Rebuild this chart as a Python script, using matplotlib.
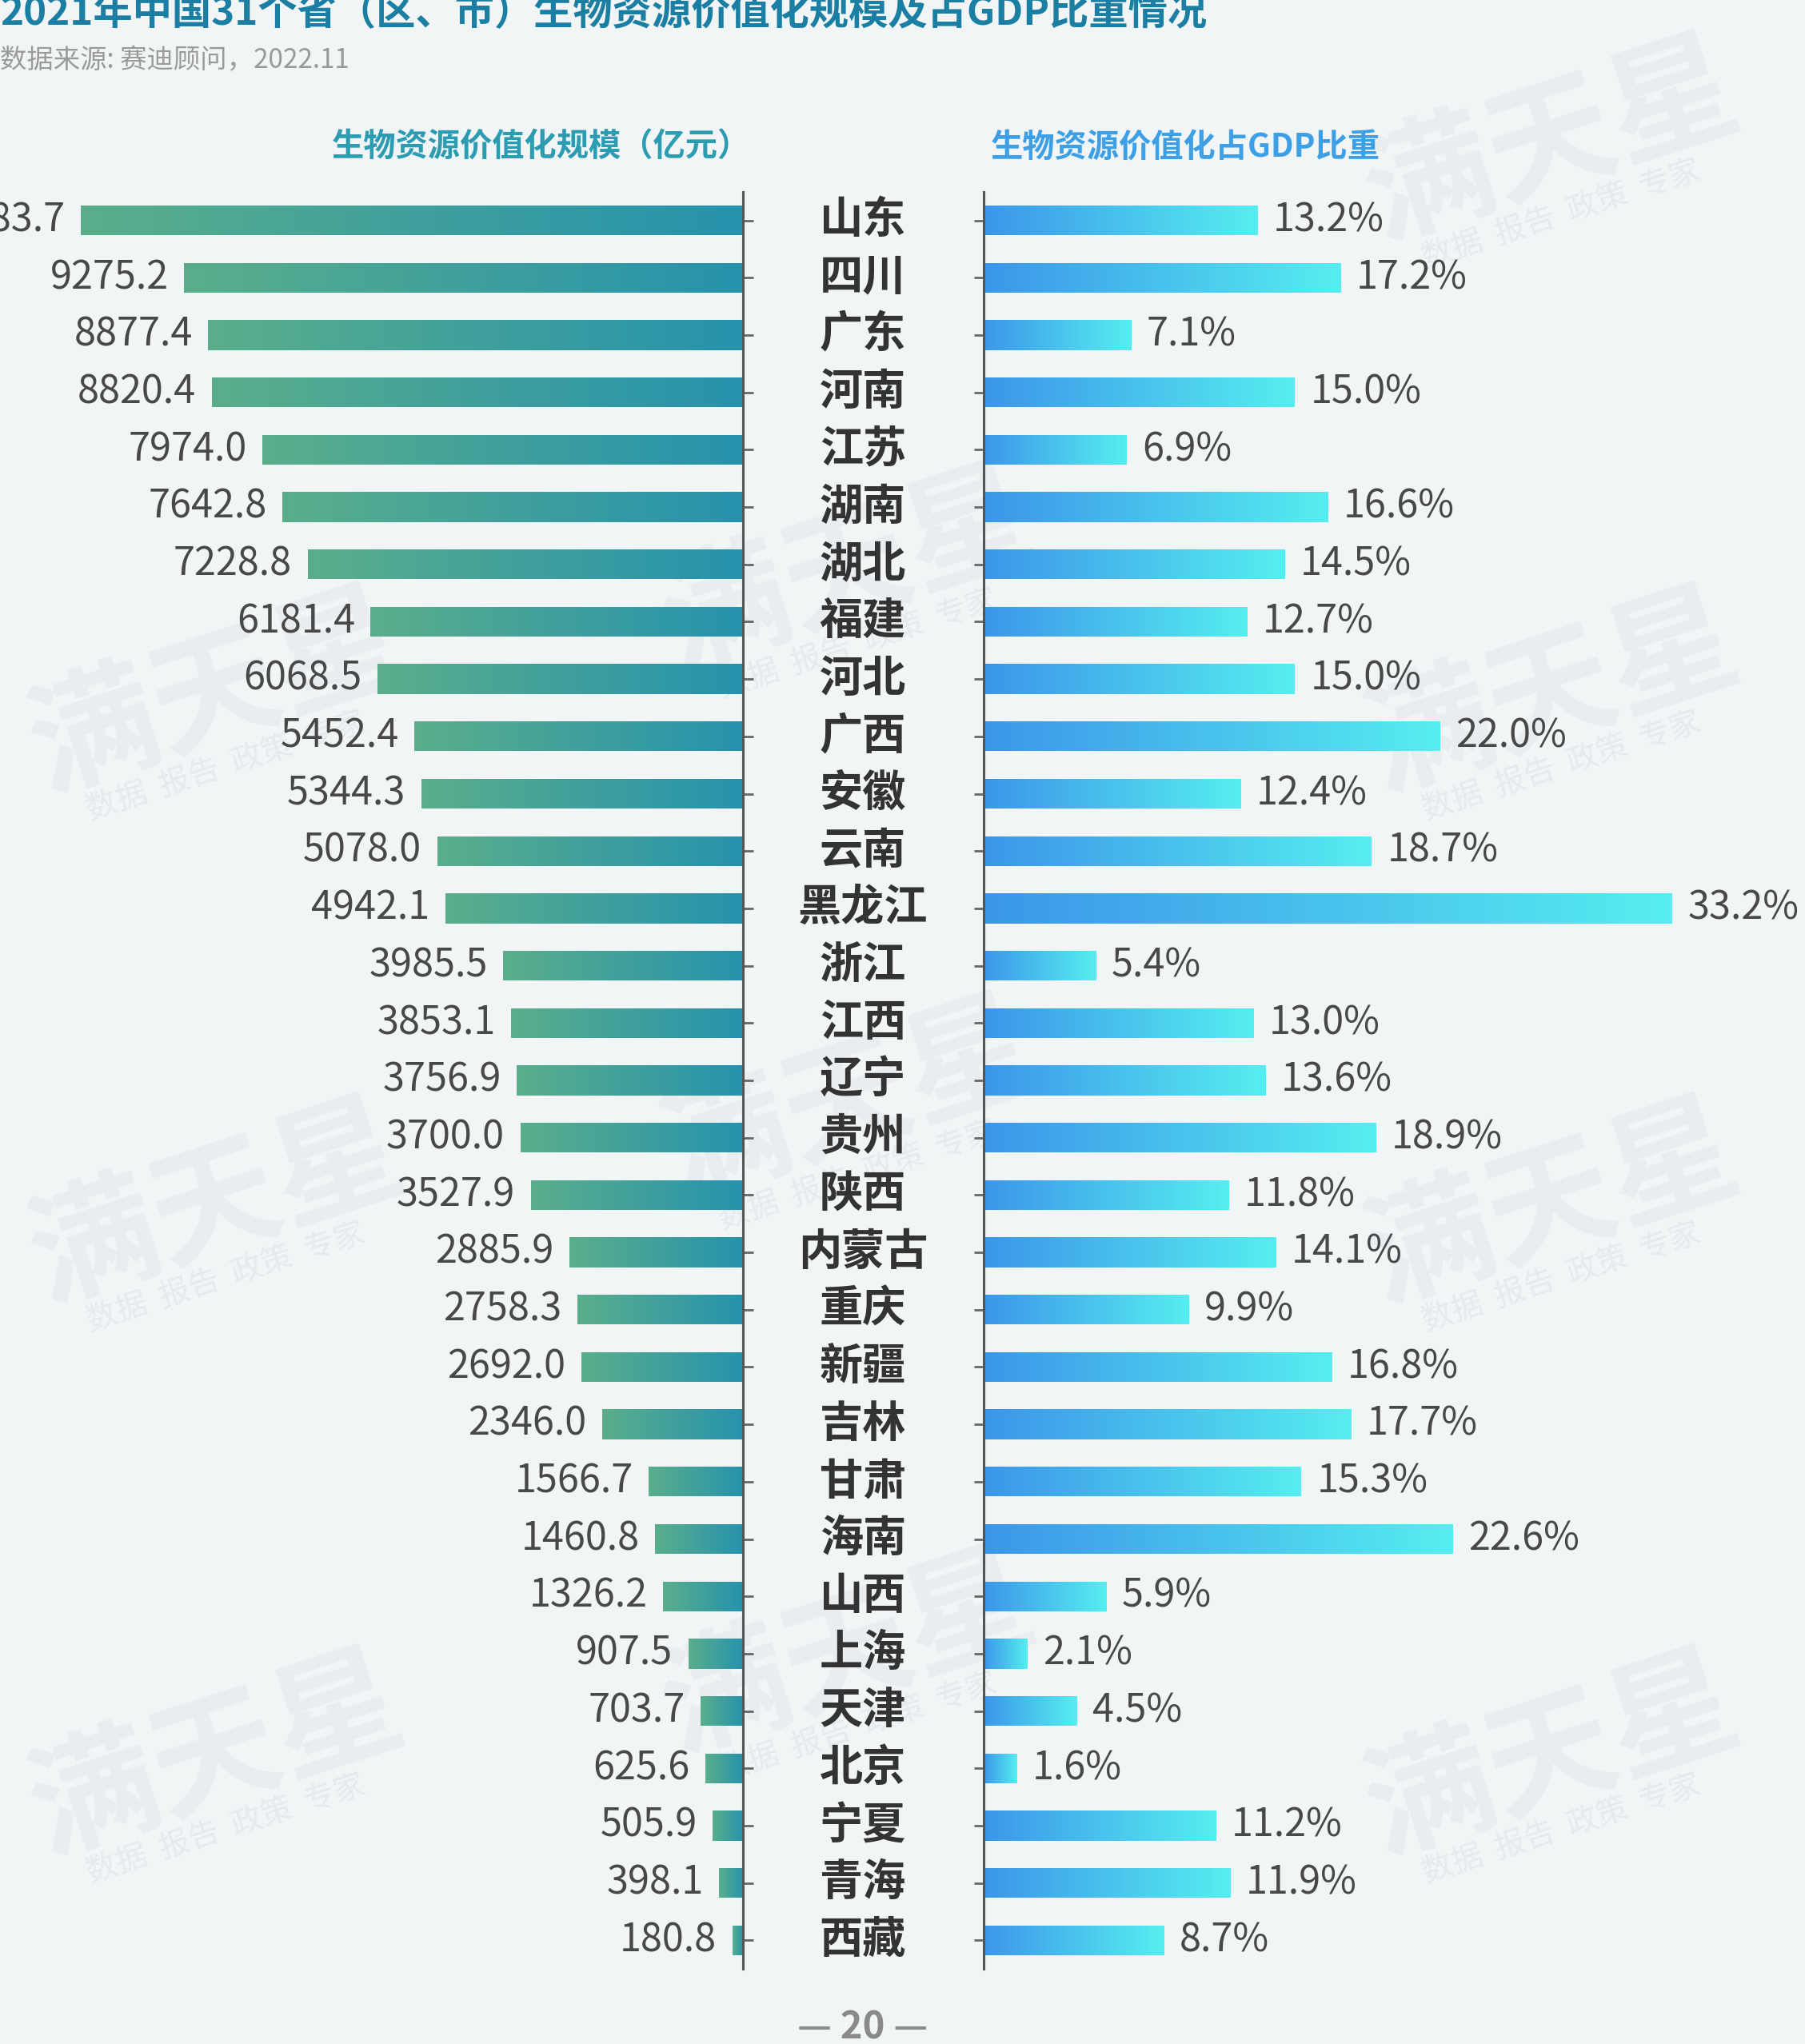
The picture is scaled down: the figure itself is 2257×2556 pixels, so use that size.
import numpy as np
import matplotlib.pyplot as plt
from matplotlib.colors import LinearSegmentedColormap
from matplotlib.transforms import blended_transform_factory

plt.rcParams['font.family'] = ['Noto Sans CJK SC', 'DejaVu Sans']

# 数据
provinces = ["山东", "四川", "广东", "河南", "江苏", "湖南", "湖北", "福建", "河北", "广西",
             "安徽", "云南", "黑龙江", "浙江", "江西", "辽宁", "贵州", "陕西", "内蒙古", "重庆",
             "新疆", "吉林", "甘肃", "海南", "山西", "上海", "天津", "北京", "宁夏", "青海", "西藏"]
scale_100m = [10983.7, 9275.2, 8877.4, 8820.4, 7974.0, 7642.8, 7228.8, 6181.4, 6068.5, 5452.4,
              5344.3, 5078.0, 4942.1, 3985.5, 3853.1, 3756.9, 3700.0, 3527.9, 2885.9, 2758.3,
              2692.0, 2346.0, 1566.7, 1460.8, 1326.2, 907.5, 703.7, 625.6, 505.9, 398.1, 180.8]
gdp_share = [13.2, 17.2, 7.1, 15.0, 6.9, 16.6, 14.5, 12.7, 15.0, 22.0,
             12.4, 18.7, 33.2, 5.4, 13.0, 13.6, 18.9, 11.8, 14.1, 9.9,
             16.8, 17.7, 15.3, 22.6, 5.9, 2.1, 4.5, 1.6, 11.2, 11.9, 8.7]

title = "2021年中国31个省（区、市）生物资源价值化规模及占GDP比重情况"
source = "数据来源: 赛迪顾问，2022.11"
left_head = "生物资源价值化规模（亿元）"
right_head = "生物资源价值化占GDP比重"

BG = "#f2f5f6"
cmap_left = LinearSegmentedColormap.from_list("l", ["#2692ad", "#5aae8b"])
cmap_right = LinearSegmentedColormap.from_list("r", ["#3c96ea", "#56eef0"])
grad = np.linspace(0, 1, 256).reshape(1, -1)

fig = plt.figure(figsize=(22.57, 25.56), dpi=100)
fig.patch.set_facecolor(BG)

# 水印（淡色，置于底层）
for (wx, wy) in [(0.12, 0.66), (0.12, 0.41), (0.12, 0.14), (0.86, 0.93), (0.86, 0.66),
                 (0.86, 0.41), (0.86, 0.14), (0.47, 0.72), (0.47, 0.46), (0.47, 0.19)]:
    fig.text(wx, wy, "满天星", fontsize=115, fontweight="bold", color="#e9edef",
             rotation=18, ha="center", va="center", zorder=-5)
    fig.text(wx + 0.005, wy - 0.035, "数据  报告  政策  专家", fontsize=28, color="#e6eaec",
             rotation=18, ha="center", va="center", zorder=-5)

y = np.arange(len(provinces))
h = 0.52

ax_l = fig.add_axes([0.0, 0.0367, 0.4118, 0.8695])
ax_r = fig.add_axes([0.545, 0.0367, 0.455, 0.8695])

for ax in (ax_l, ax_r):
    ax.patch.set_alpha(0)
    for s in ax.spines.values():
        s.set_visible(False)

# 左侧：规模
bars = ax_l.barh(y, scale_100m, height=h, color="none")
for b, v in zip(bars, scale_100m):
    im = ax_l.imshow(grad, cmap=cmap_left, aspect="auto",
                     extent=(0, v, b.get_y() + h, b.get_y()), zorder=2)
    im.set_clip_path(b)
    ax_l.annotate(f"{v:.1f}", (v, b.get_y() + h / 2), xytext=(-14, 0),
                  textcoords="offset points", ha="right", va="center",
                  fontsize=35, color="#484848", annotation_clip=False)
ax_l.set_xlim(12330, 0)
ax_l.set_ylim(len(provinces) - 0.5, -0.5)
ax_l.spines["right"].set_visible(True)
ax_l.spines["right"].set_color("#555555")
ax_l.spines["right"].set_linewidth(2.2)
ax_l.yaxis.tick_right()
ax_l.set_yticks(y)
ax_l.set_yticklabels([])
ax_l.tick_params(axis="y", direction="out", length=9, width=2, color="#666666")
ax_l.set_xticks([])

# 右侧：占GDP比重
bars = ax_r.barh(y, gdp_share, height=h, color="none")
for b, v in zip(bars, gdp_share):
    im = ax_r.imshow(grad, cmap=cmap_right, aspect="auto",
                     extent=(0, v, b.get_y() + h, b.get_y()), zorder=2)
    im.set_clip_path(b)
    ax_r.annotate(f"{v:.1f}%", (v, b.get_y() + h / 2), xytext=(14, 0),
                  textcoords="offset points", ha="left", va="center",
                  fontsize=35, color="#484848", annotation_clip=False)
ax_r.set_xlim(0, 39.6)
ax_r.set_ylim(len(provinces) - 0.5, -0.5)
ax_r.spines["left"].set_visible(True)
ax_r.spines["left"].set_color("#555555")
ax_r.spines["left"].set_linewidth(2.2)
ax_r.set_yticks(y)
ax_r.set_yticklabels([])
ax_r.tick_params(axis="y", direction="out", length=9, width=2, color="#666666")
ax_r.set_xticks([])

# 省份名称
tr = blended_transform_factory(fig.transFigure, ax_l.transData)
for yi, p in zip(y, provinces):
    ax_l.text(0.478, yi, p, transform=tr, ha="center", va="center",
              fontsize=39, fontweight="bold", color="#333333", clip_on=False)

# 标题与表头
fig.text(0.0, 0.9935, title, fontsize=35.5, fontweight="bold", color="#1b7ea3",
         ha="left", va="center")
fig.text(0.0, 0.9705, source, fontsize=24, color="#9a9a9a", ha="left", va="center")
fig.text(0.2995, 0.928, left_head, fontsize=29, fontweight="bold", color="#2b9cb1",
         ha="center", va="center")
fig.text(0.549, 0.928, right_head, fontsize=29, fontweight="bold", color="#3d9fe6",
         ha="left", va="center")
fig.text(0.478, 0.008, "— 20 —", fontsize=34, fontweight="bold", color="#8a8a8a",
         ha="center", va="center")

fig.savefig("out.png", dpi=100, facecolor=BG)
